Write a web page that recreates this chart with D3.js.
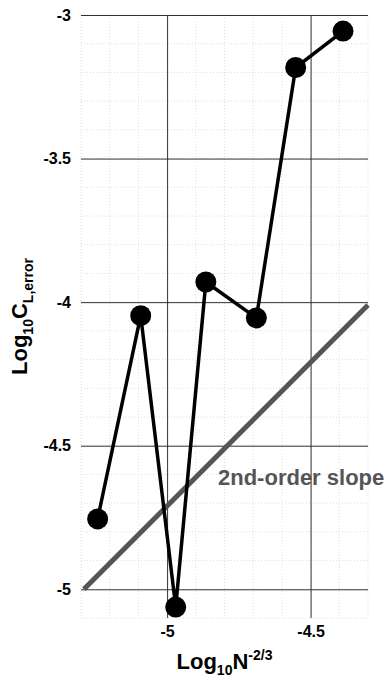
<!DOCTYPE html>
<html>
<head>
<meta charset="utf-8">
<script src="https://cdn.jsdelivr.net/npm/d3@7"></script>
<style>
  body { margin: 0; background: #fff; }
  text { font-family: Arial, "Liberation Sans", sans-serif; font-weight: bold; }
</style>
</head>
<body>
<div class="chart"></div>
<script>
// data
var xValues = [-5.242, -5.092, -4.970, -4.865, -4.689, -4.552, -4.387];
var yValues = [-4.755, -4.047, -5.062, -3.930, -4.055, -3.183, -3.056];
var slopeX = [-5.29, -4.30];
var slopeY = [-5.00, -4.01];
var xTicks = [-5, -4.5];
var xTickLabels = ["-5", "-4.5"];
var yTicks = [-3, -3.5, -4, -4.5, -5];
var yTickLabels = ["-3", "-3.5", "-4", "-4.5", "-5"];

// chart setup
var widthSVG = 389;
var heightSVG = 679;
var margins = { top: 15, right: 21, bottom: 61, left: 81 };
var width = widthSVG - margins.left - margins.right;
var height = heightSVG - margins.top - margins.bottom;

var svg = d3.select(".chart").append("svg")
  .attr("width", widthSVG)
  .attr("height", heightSVG);

var g = svg.append("g")
  .attr("transform", `translate(${margins.left}, ${margins.top})`);

var xScale = d3.scaleLinear().domain([-5.3, -4.3]).range([0, width]);
var yScale = d3.scaleLinear().domain([-5.1, -3]).range([height, 0]);

// dotted minor grid every 0.1
var minorX = d3.range(0, 11).map(i => -5.3 + i * 0.1);
var minorY = d3.range(0, 22).map(i => -5.1 + i * 0.1);

g.selectAll(".minor-x").data(minorX).enter().append("line")
  .attr("x1", d => xScale(d)).attr("x2", d => xScale(d))
  .attr("y1", 0).attr("y2", height)
  .attr("stroke", "#dedede").attr("stroke-dasharray", "1,2");

g.selectAll(".minor-y").data(minorY).enter().append("line")
  .attr("y1", d => yScale(d)).attr("y2", d => yScale(d))
  .attr("x1", 0).attr("x2", width)
  .attr("stroke", "#dedede").attr("stroke-dasharray", "1,2");

// axes with major grid lines
var leftAxis = d3.axisLeft(yScale)
  .tickValues(yTicks)
  .tickFormat((d, i) => yTickLabels[i])
  .tickSize(-width)
  .tickPadding(10);

var bottomAxis = d3.axisBottom(xScale)
  .tickValues(xTicks)
  .tickFormat((d, i) => xTickLabels[i])
  .tickSize(-height)
  .tickPadding(8);

var yAxisG = g.append("g").call(leftAxis);
var xAxisG = g.append("g").attr("transform", `translate(0, ${height})`).call(bottomAxis);

[yAxisG, xAxisG].forEach(function (ax) {
  ax.select(".domain").remove();
  ax.selectAll(".tick line").attr("stroke", "#333").attr("stroke-width", 1);
  ax.selectAll(".tick text")
    .attr("fill", "#000")
    .style("font-size", "16px")
    .style("font-family", "Arial, 'Liberation Sans', sans-serif")
    .style("font-weight", "bold");
});

// 2nd-order slope reference line
g.append("line")
  .attr("x1", xScale(slopeX[0])).attr("y1", yScale(slopeY[0]))
  .attr("x2", xScale(slopeX[1])).attr("y2", yScale(slopeY[1]))
  .attr("stroke", "#555").attr("stroke-width", 5);

// data line and markers
var points = xValues.map((x, i) => ({ x: x, y: yValues[i] }));

g.append("path")
  .datum(points)
  .attr("fill", "none")
  .attr("stroke", "#000")
  .attr("stroke-width", 3.5)
  .attr("d", d3.line().x(d => xScale(d.x)).y(d => yScale(d.y)));

g.selectAll(".dot").data(points).enter().append("circle")
  .attr("cx", d => xScale(d.x))
  .attr("cy", d => yScale(d.y))
  .attr("r", 10.5)
  .attr("fill", "#000");

// slope label
svg.append("text")
  .attr("x", 218).attr("y", 485)
  .attr("fill", "#555")
  .style("font-size", "22px")
  .text("2nd-order slope");

// axis titles
var xTitle = svg.append("text")
  .attr("x", margins.left + width / 2)
  .attr("y", 669)
  .attr("text-anchor", "middle")
  .style("font-size", "22px");
xTitle.append("tspan").text("Log");
xTitle.append("tspan").attr("dy", 6).style("font-size", "14px").text("10");
xTitle.append("tspan").attr("dy", -6).text("N");
xTitle.append("tspan").attr("dy", -9).style("font-size", "14px").text("-2/3");

var yTitle = svg.append("text")
  .attr("transform", `translate(27, ${margins.top + height / 2}) rotate(-90)`)
  .attr("text-anchor", "middle")
  .style("font-size", "22px");
yTitle.append("tspan").text("Log");
yTitle.append("tspan").attr("dy", 6).style("font-size", "14px").text("10");
yTitle.append("tspan").attr("dy", -6).text("C");
yTitle.append("tspan").attr("dy", 6).style("font-size", "14px").text("L,error");
</script>
</body>
</html>
